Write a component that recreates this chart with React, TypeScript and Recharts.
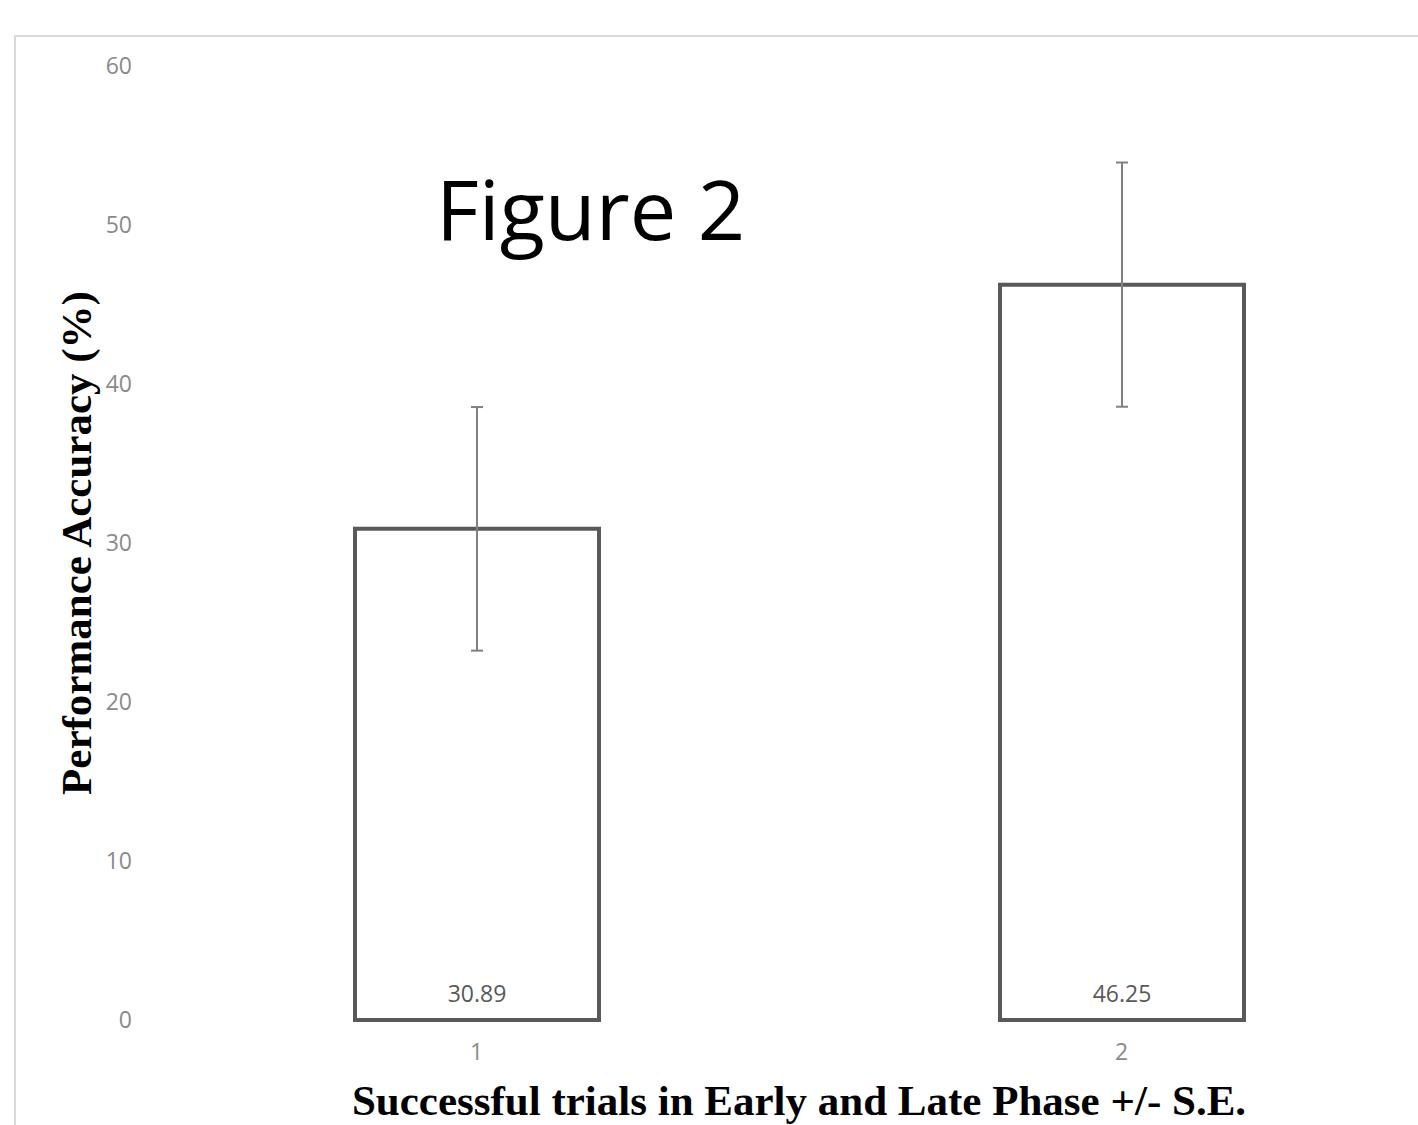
import React from 'react'
import { BarChart, Bar, XAxis, YAxis, ErrorBar, LabelList, Label } from 'recharts'

const phases = ['1', '2']
const accuracy = [30.89, 46.25]
const stdErr = [7.66, 7.68]
const yTicks = [0, 10, 20, 30, 40, 50, 60]

const data = phases.map((name, i) => ({ name, value: accuracy[i], se: stdErr[i] }))

const tickStyle = { fill: '#8a8a8a', fontSize: 23, fontFamily: 'Open Sans' }
const titleFont = { fontFamily: 'Liberation Serif', fontWeight: 700, fontSize: 43, fill: '#000' }

export default function App() {
  return (
    <div style={{ position: 'fixed', left: 0, top: 0, width: 1418, height: 1125, overflow: 'hidden', background: '#fff' }}>
      <div
        style={{
          position: 'absolute',
          left: 14,
          top: 35,
          width: 1500,
          height: 1200,
          borderLeft: '2px solid #d9d9d9',
          borderTop: '2px solid #d9d9d9',
        }}
      />
      <div style={{ position: 'absolute', left: 0, top: 0 }}>
        <BarChart
          width={1460}
          height={1125}
          data={data}
          margin={{ top: 66, right: 16, bottom: 5, left: 0 }}
          barSize={244}
        >
          <XAxis
            dataKey="name"
            height={100}
            axisLine={false}
            tickLine={false}
            tickSize={0}
            tickMargin={24}
            tick={tickStyle}
          >
            <Label
              value="Successful trials in Early and Late Phase +/- S.E."
              position="insideBottom"
              offset={5}
              style={titleFont}
            />
          </XAxis>
          <YAxis
            width={154}
            domain={[0, 60]}
            ticks={yTicks}
            axisLine={false}
            tickLine={false}
            tickSize={0}
            tickMargin={22}
            tick={tickStyle}
          >
            <Label
              value="Performance Accuracy (%)"
              angle={-90}
              position="insideLeft"
              offset={76}
              style={{ ...titleFont, textAnchor: 'middle' }}
            />
          </YAxis>
          <Bar dataKey="value" fill="#ffffff" stroke="#595959" strokeWidth={4} isAnimationActive={false}>
            <ErrorBar dataKey="se" width={6} stroke="#808080" strokeWidth={2} direction="y" />
            <LabelList
              dataKey="value"
              position="insideBottom"
              offset={18}
              fill="#595959"
              fontSize={23}
              fontFamily="Open Sans"
            />
          </Bar>
        </BarChart>
      </div>
      <svg width={1418} height={1125} style={{ position: 'absolute', left: 0, top: 0, pointerEvents: 'none' }}>
        <text x={436} y={240} fontFamily="Open Sans" fontSize={83} fill="#000">
          Figure 2
        </text>
      </svg>
    </div>
  )
}
